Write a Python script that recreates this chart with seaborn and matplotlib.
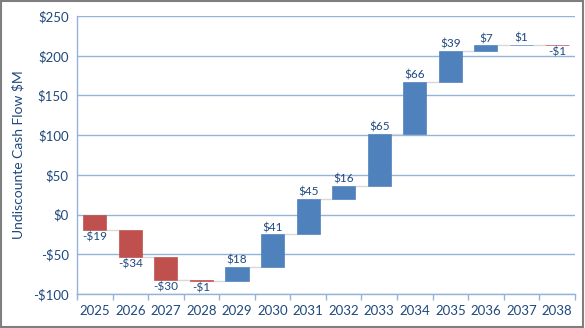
import matplotlib
matplotlib.use("Agg")
import matplotlib.pyplot as plt
import seaborn as sns
import numpy as np
import pandas as pd
from matplotlib.patches import Rectangle

years = ["2025", "2026", "2027", "2028", "2029", "2030", "2031",
         "2032", "2033", "2034", "2035", "2036", "2037", "2038"]
changes = [-19, -34, -30, -1, 18, 41, 45, 16, 65, 66, 39, 7, 1, -1]
y_ticks = [-100, -50, 0, 50, 100, 150, 200, 250]

cum = np.cumsum(changes)
starts = np.concatenate([[0], cum[:-1]])
bottoms = np.minimum(starts, cum)
heights = np.abs(np.array(changes))

df = pd.DataFrame({"year": years, "height": heights, "bottom": bottoms})

sns.set_style("white")
plt.rcParams["font.family"] = ["Lato", "DejaVu Sans"]

text_color = "#1F497D"
grid_color = "#95B3D7"
pos_color = "#4F81BD"
neg_color = "#C0504D"

fig = plt.figure(figsize=(5.85, 3.28), dpi=100)
ax = fig.add_axes([0.1316, 0.1037, 0.851, 0.8473])

width = 0.65
sns.barplot(data=df, x="year", y="height", order=years, bottom=df["bottom"].values,
            width=width, color=pos_color, ax=ax, zorder=3, linewidth=0)
for p, c in zip(ax.patches, changes):
    col = neg_color if c < 0 else pos_color
    p.set_facecolor(col)
    p.set_edgecolor(col)
    p.set_linewidth(0.5)

# connectors
for i in range(len(years) - 1):
    ax.hlines(cum[i], i + width / 2, i + 1 - width / 2, color="#D9D9D9",
              lw=1.0, zorder=2)

# labels
for i, c in enumerate(changes):
    lab = f"${c}" if c >= 0 else f"-${abs(c)}"
    if c >= 0:
        ax.annotate(lab, (i, cum[i]), xytext=(0, 1), textcoords="offset points",
                    ha="center", va="bottom", fontsize=8.5, color=text_color)
    else:
        ax.annotate(lab, (i, cum[i]), xytext=(0, -1), textcoords="offset points",
                    ha="center", va="top", fontsize=8.5, color=text_color)

ax.set_ylim(-100, 250)
ax.set_xlim(-0.5, len(years) - 0.5)
ax.set_yticks(y_ticks)
ax.set_yticklabels([f"${v}" if v >= 0 else f"-${abs(v)}" for v in y_ticks])
ax.yaxis.grid(True, color=grid_color, lw=1.0, zorder=0)
ax.set_axisbelow(True)
ax.tick_params(axis="y", length=0, labelsize=9.5, labelcolor=text_color, pad=6)
ax.tick_params(axis="x", length=0, labelsize=9.5, labelcolor=text_color, pad=8)
# category boundary ticks
ax.set_xticks(np.arange(-0.5, len(years), 1.0), minor=True)
ax.tick_params(axis="x", which="minor", length=4, color=grid_color, width=1, direction="out")
ax.xaxis.set_tick_params(which="minor", bottom=True)

for s in ["top", "right"]:
    ax.spines[s].set_visible(False)
for s in ["left", "bottom"]:
    ax.spines[s].set_color(grid_color)
    ax.spines[s].set_linewidth(1.0)

ax.set_xlabel("")
ax.set_ylabel("Undiscounte Cash Flow $M", fontsize=10, color=text_color, labelpad=6)

fig.patches.append(Rectangle((0.002, 0.003), 0.994, 0.994, transform=fig.transFigure,
                             fill=False, edgecolor="#7F7F7F", lw=1.5))

fig.savefig("out.png", dpi=100)
